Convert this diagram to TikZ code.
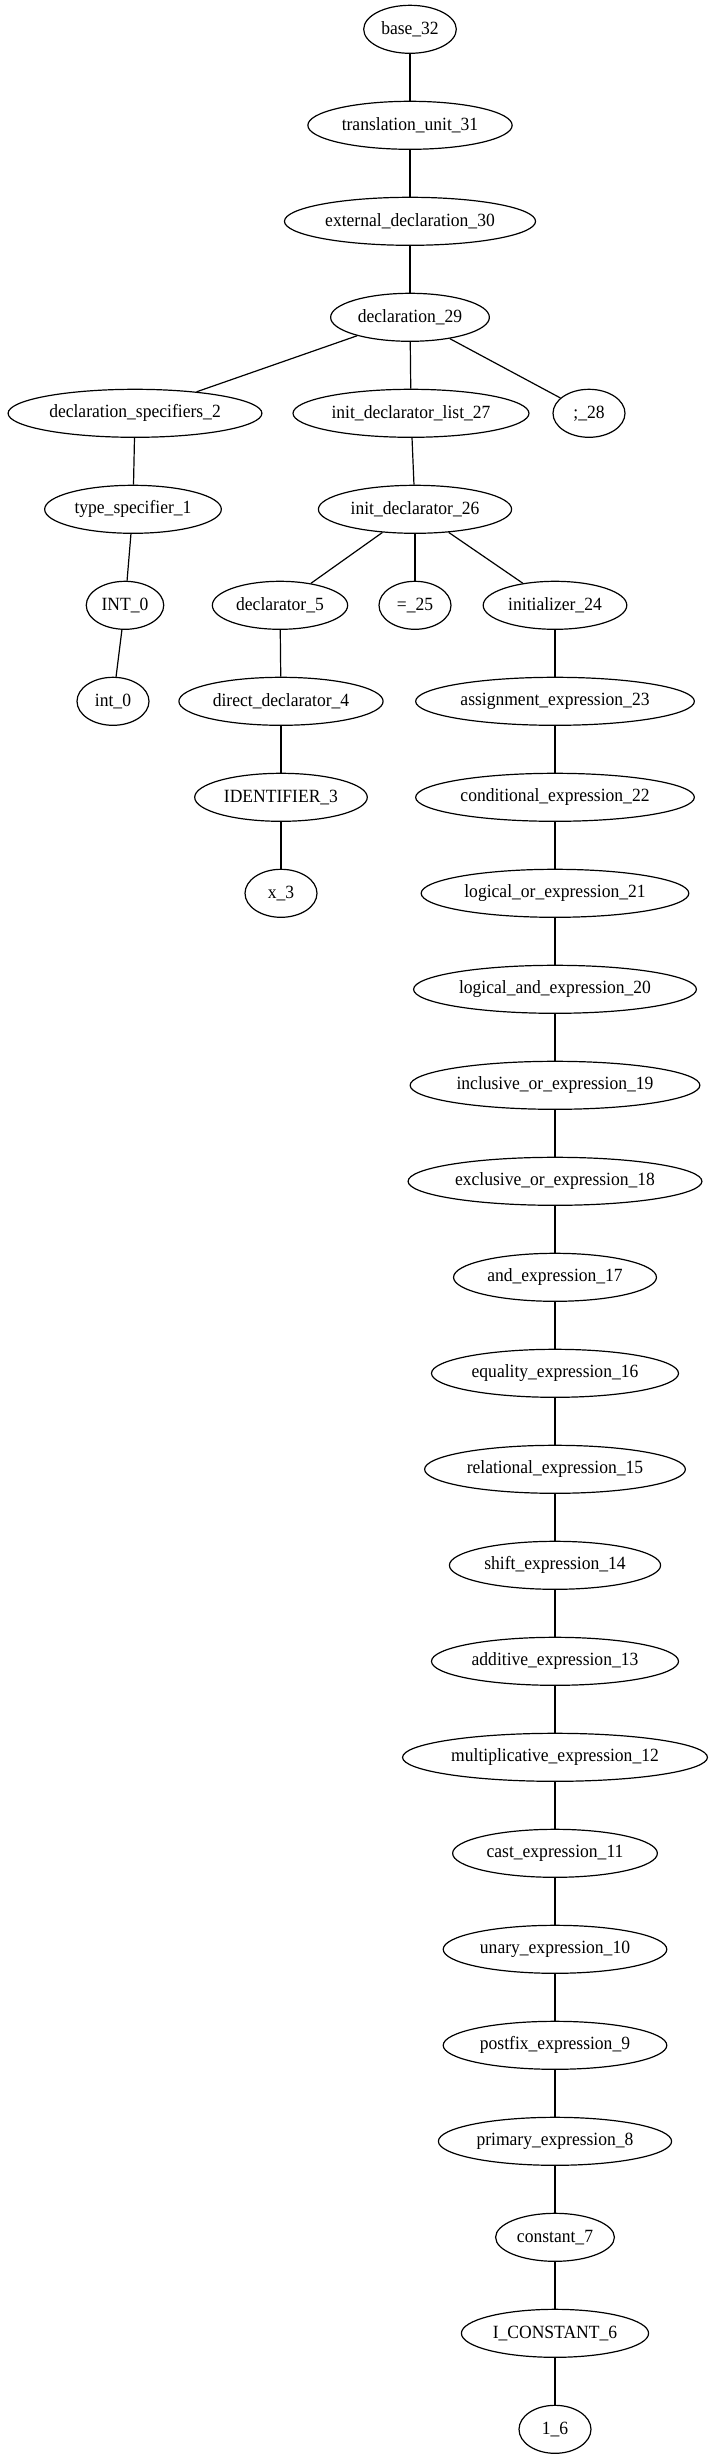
\documentclass[tikz,border=0pt]{standalone}
\usepackage{fontspec}
\setmainfont[FakeStretch=0.94]{Liberation Serif}
\usepackage{tikz}
\usetikzlibrary{shapes.geometric}
\tikzset{
  treenode/.style={ellipse,draw,line width=0.9pt,inner xsep=3pt,inner ysep=2pt,
    minimum width=54pt,minimum height=36pt},
  treeedge/.style={line width=0.9pt}
}

\begin{document}
\begin{tikzpicture}[x=0.75pt,y=-0.75pt,
  every node/.style={font=\fontsize{14}{16}\selectfont}]
\useasboundingbox (0,0) rectangle (713,2459);

% Top spine
\node[treenode] (base32) at (410, 29.3) {base\_32};
\node[treenode] (tu31) at (410, 125.3) {translation\_unit\_31};
\node[treenode] (ed30) at (410, 221.3) {external\_declaration\_30};
\node[treenode] (decl29) at (410, 317.3) {declaration\_29};

% Children of the declaration
\node[treenode] (ds2) at (135, 413.3) {declaration\_specifiers\_2};
\node[treenode] (idl27) at (411, 413.3) {init\_declarator\_list\_27};
\node[treenode] (semi28) at (589, 413.3) {;\_28};

% Type specifier branch
\node[treenode] (ts1) at (133, 509.3) {type\_specifier\_1};
\node[treenode] (INT0) at (125, 605.3) {INT\_0};
\node[treenode] (int0) at (113, 701.3) {int\_0};

% Init declarator
\node[treenode] (id26) at (415, 509.3) {init\_declarator\_26};
\node[treenode] (d5) at (280, 605.3) {declarator\_5};
\node[treenode] (eq25) at (415, 605.3) {=\_25};
\node[treenode] (in24) at (555, 605.3) {initializer\_24};

% Declarator branch
\node[treenode] (dd4) at (281, 701.3) {direct\_declarator\_4};
\node[treenode] (ID3) at (281, 797.3) {IDENTIFIER\_3};
\node[treenode] (x3) at (281, 893.3) {x\_3};

% Expression chain
\node[treenode] (e23) at (555, 701.3) {assignment\_expression\_23};
\node[treenode] (e22) at (555, 797.3) {conditional\_expression\_22};
\node[treenode] (e21) at (555, 893.3) {logical\_or\_expression\_21};
\node[treenode] (e20) at (555, 989.3) {logical\_and\_expression\_20};
\node[treenode] (e19) at (555, 1085.3) {inclusive\_or\_expression\_19};
\node[treenode] (e18) at (555, 1181.3) {exclusive\_or\_expression\_18};
\node[treenode] (e17) at (555, 1277.3) {and\_expression\_17};
\node[treenode] (e16) at (555, 1373.3) {equality\_expression\_16};
\node[treenode] (e15) at (555, 1469.3) {relational\_expression\_15};
\node[treenode] (e14) at (555, 1565.3) {shift\_expression\_14};
\node[treenode] (e13) at (555, 1661.3) {additive\_expression\_13};
\node[treenode] (e12) at (555, 1757.3) {multiplicative\_expression\_12};
\node[treenode] (e11) at (555, 1853.3) {cast\_expression\_11};
\node[treenode] (e10) at (555, 1949.3) {unary\_expression\_10};
\node[treenode] (e9) at (555, 2045.3) {postfix\_expression\_9};
\node[treenode] (e8) at (555, 2141.3) {primary\_expression\_8};
\node[treenode] (c7) at (555, 2237.3) {constant\_7};
\node[treenode] (IC6) at (555, 2333.3) {I\_CONSTANT\_6};
\node[treenode] (one6) at (555, 2429.3) {1\_6};

% Tree edges
\foreach \i/\j in {
base32/tu31,tu31/ed30,ed30/decl29,
decl29/ds2,decl29/idl27,decl29/semi28,
ds2/ts1,ts1/INT0,INT0/int0,
idl27/id26,id26/d5,id26/eq25,id26/in24,
d5/dd4,dd4/ID3,ID3/x3,
in24/e23,e23/e22,e22/e21,e21/e20,e20/e19,e19/e18,e18/e17,
e17/e16,e16/e15,e15/e14,e14/e13,e13/e12,e12/e11,e11/e10,
e10/e9,e9/e8,e8/c7,c7/IC6,IC6/one6}
{
  \draw[treeedge] (\i) -- (\j);
}

\end{tikzpicture}
\end{document}
